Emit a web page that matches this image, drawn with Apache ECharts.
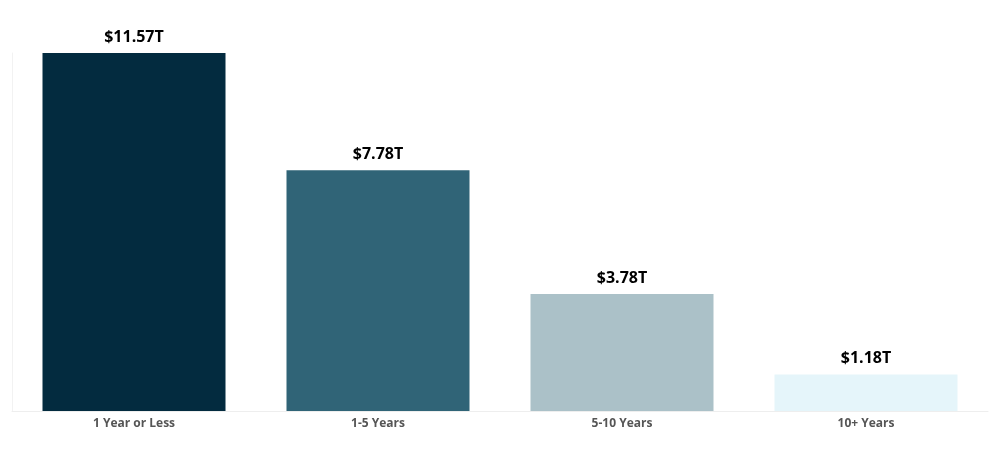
<!DOCTYPE html>
<html><head><meta charset="utf-8">
<script src="https://cdn.jsdelivr.net/npm/echarts@6/dist/echarts.min.js"></script>
<style>html,body{margin:0;background:#fff}#c{width:1000px;height:450px}</style>
</head><body><div id="c"></div>
<script>
const categories = ["1 Year or Less", "1-5 Years", "5-10 Years", "10+ Years"];
const values = [11.57, 7.78, 3.78, 1.18];
const colors = ["#032b3f", "#306477", "#abc1c8", "#e5f5fa"];
const chart = echarts.init(document.getElementById('c'));
chart.setOption({
  animation: false,
  grid: {left: 12, right: 12, top: 53, bottom: 39},
  xAxis: {
    type: 'category', data: categories,
    axisLine: {lineStyle: {color: '#eeeeee'}},
    axisTick: {show: false},
    axisLabel: {color: '#555', fontWeight: 'bold', fontSize: 12, fontFamily: 'Open Sans', margin: 7}
  },
  yAxis: {
    type: 'value', min: 0, max: 'dataMax',
    axisLine: {show: true, lineStyle: {color: '#f2f2f2'}},
    axisLabel: {show: false}, splitLine: {show: false}, axisTick: {show: false}
  },
  series: [{
    type: 'bar', barWidth: '75%',
    data: values.map((v, i) => ({value: v, itemStyle: {color: colors[i]}})),
    label: {show: true, position: 'top', distance: 8, color: '#000', fontWeight: 'bold',
      fontSize: 16, fontFamily: 'Open Sans', formatter: p => '$' + p.value.toFixed(2) + 'T'}
  }]
});
</script></body></html>
